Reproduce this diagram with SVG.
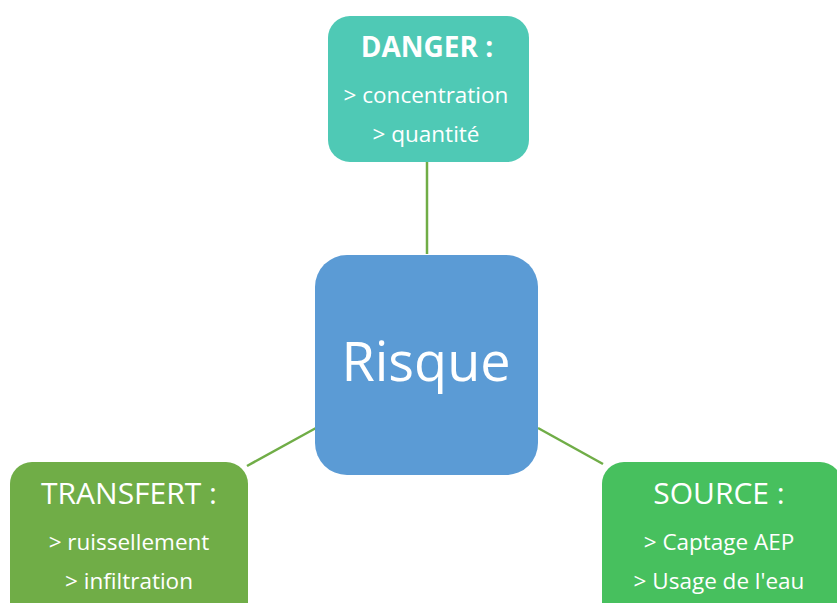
<svg xmlns="http://www.w3.org/2000/svg" width="837" height="603" viewBox="0 0 837 603">
  <style>
    .lbl { font-family: "Open Sans", "Noto Sans", "Liberation Sans", sans-serif; fill: #ffffff; text-anchor: middle; }
    .head { font-size: 30px; }
    .item { font-size: 22.5px; }
    .link { stroke: #70AD47; stroke-width: 2.5; fill: none; }
  </style>
  <rect width="837" height="603" fill="#ffffff"/>
  <g id="connectors">
    <line class="link" x1="427" y1="162" x2="427" y2="254"/>
    <line class="link" x1="247" y1="466" x2="316" y2="428"/>
    <line class="link" x1="538" y1="428" x2="603" y2="464"/>
  </g>
  <g id="danger">
    <rect x="328" y="16" width="201" height="146" rx="22" fill="#4FC9B5"/>
    <text class="lbl" x="427" y="57" font-size="28" font-weight="bold">DANGER :</text>
    <text class="lbl item" x="426" y="103">&gt; concentration</text>
    <text class="lbl item" x="426" y="142">&gt; quantité</text>
  </g>
  <g id="risque">
    <rect x="315" y="255" width="223" height="220" rx="32" fill="#5B9BD5"/>
    <text class="lbl" x="426" y="381" font-size="54">Risque</text>
  </g>
  <g id="transfert">
    <rect x="10" y="462" width="238" height="170" rx="22" fill="#70AD47"/>
    <text class="lbl head" x="129" y="504">TRANSFERT :</text>
    <text class="lbl item" x="129" y="550">&gt; ruissellement</text>
    <text class="lbl item" x="129" y="589">&gt; infiltration</text>
  </g>
  <g id="source">
    <rect x="602" y="462" width="240" height="170" rx="22" fill="#47C05E"/>
    <text class="lbl head" x="719" y="504">SOURCE :</text>
    <text class="lbl item" x="719" y="550">&gt; Captage AEP</text>
    <text class="lbl item" x="719" y="589">&gt; Usage de l'eau</text>
  </g>
</svg>
